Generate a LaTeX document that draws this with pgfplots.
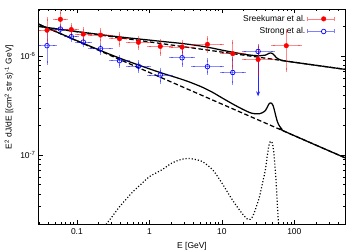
\documentclass[border=0pt]{standalone}
\usepackage{pgfplots}
\pgfplotsset{compat=1.18}
\usepackage{fontspec}
\setmainfont{Liberation Sans}
\usetikzlibrary{arrows.meta}
\newcommand{\fs}{\fontsize{8.5}{10}\selectfont}
\begin{document}
\begin{tikzpicture}
\begin{axis}[
  scale only axis, width=306bp, height=215bp,
  xmode=log, ymode=log,
  xmin=0.03, xmax=500, ymin=2e-8, ymax=3e-6,
  xtick={0.1,1,10,100}, xticklabels={0.1,1,10,100},
  ytick={1e-7,1e-6}, yticklabels={10\textsuperscript{-7},10\textsuperscript{-6}},
  minor xtick={0.03,0.04,0.05,0.06,0.07,0.08,0.09,0.2,0.3,0.4,0.5,0.6,0.7,0.8,0.9,2,3,4,5,6,7,8,9,20,30,40,50,60,70,80,90,200,300,400,500},
  minor ytick={2e-8,3e-8,4e-8,5e-8,6e-8,7e-8,8e-8,9e-8,2e-7,3e-7,4e-7,5e-7,6e-7,7e-7,8e-7,9e-7,2e-6,3e-6},
  major tick length=4bp, minor tick length=2bp,
  tick style={black, line width=0.5bp},
  axis line style={line width=1bp},
  tick label style={font=\fs},
  xticklabel style={yshift=-1.5bp},
  label style={font=\fs},
  xlabel={E [GeV]},
  ylabel={E\textsuperscript{2} dJ/dE [(cm\textsuperscript{2} str s)\textsuperscript{-1} GeV]},
  ylabel style={at={(axis description cs:-0.098,0.59)}, anchor=center},
  legend style={at={(rel axis cs:0.968,0.982)}, anchor=north east, draw=none, fill=none, inner sep=0pt, font=\fs, row sep=1bp},
  legend cell align=right, legend plot pos=right,
]
\coordinate (SW) at (rel axis cs:0,0);
\coordinate (NE) at (rel axis cs:1,1);
% dashed continua
\addplot[forget plot, black, line width=1.25bp, dash pattern=on 4.5bp off 2.5bp] coordinates {(0.03,2.0e-6) (500,0.735e-6)};
\addplot[forget plot, black, line width=1.25bp, dash pattern=on 4.5bp off 2.5bp] coordinates {(0.03,2.10e-6) (500,0.0936e-6)};
% dotted DM contribution
\addplot[forget plot, black, line width=1.2bp, dash pattern=on 1.1bp off 2bp, smooth] coordinates {
(0.2,1.57e-8) (0.258,2.02e-8) (0.3,2.33e-8) (0.386,2.98e-8) (0.5,3.7e-8) (0.589,4.23e-8) (0.75,4.97e-8)
(1.0,6.02e-8) (1.5,7.1e-8) (2.0,8.2e-8) (2.6,8.9e-8) (3.3,9.2e-8) (4.0,9.1e-8) (5.4,8.55e-8) (7.5,7.04e-8)
(10,5.2e-8) (14,3.5e-8) (19,2.56e-8) (23,2.22e-8) (26,2.32e-8) (29,2.8e-8) (33,3.77e-8) (36,5.0e-8)
(40,7.2e-8) (42.5,1.0e-7) (44.5,1.24e-7) (46.5,1.36e-7) (48.5,1.37e-7) (50.5,1.25e-7) (52.5,1.0e-7)
(54.5,7.2e-8) (56.5,4.8e-8) (58.5,3.0e-8) (60.5,2.0e-8) (63,1.2e-8) (67,5e-9)};
% solid totals
\addplot[forget plot, black, line width=1.25bp, smooth] coordinates {
(0.03,2.0e-6) (0.1,1.772e-6) (0.2,1.661e-6) (0.3,1.601e-6) (0.5,1.534e-6) (1,1.454e-6) (1.5,1.408e-6)
(2,1.379e-6) (2.6,1.352e-6) (3.3,1.324e-6) (4,1.299e-6) (5.4,1.257e-6) (7.5,1.203e-6) (10,1.151e-6)
(14,1.097e-6) (19,1.055e-6) (23,1.031e-6) (26,1.020e-6) (29,1.013e-6) (33,1.010e-6) (36,1.014e-6)
(40,1.025e-6) (42.5,1.047e-6) (44.5,1.067e-6) (46.5,1.075e-6) (48.5,1.072e-6) (50.5,1.056e-6)
(52.5,1.027e-6) (54.5,0.995e-6) (56.5,0.968e-6) (58.5,0.947e-6) (60.5,0.934e-6) (63,0.922e-6)
(67,0.909e-6) (75,0.893e-6) (500,0.735e-6)};
\addplot[forget plot, black, line width=1.25bp, smooth] coordinates {
(0.03,2.10e-6) (0.1,1.434e-6) (0.2,1.160e-6) (0.3,1.028e-6) (0.5,0.891e-6) (1,0.744e-6) (1.5,0.672e-6)
(2,0.630e-6) (2.6,0.593e-6) (3.3,0.559e-6) (4,0.530e-6) (5.4,0.484e-6) (7.5,0.429e-6) (10,0.379e-6)
(14,0.329e-6) (19,0.292e-6) (23,0.273e-6) (26,0.264e-6) (29,0.261e-6) (33,0.261e-6) (36,0.267e-6)
(40,0.282e-6) (42.5,0.306e-6) (44.5,0.327e-6) (46.5,0.336e-6) (48.5,0.334e-6) (50.5,0.320e-6)
(52.5,0.293e-6) (54.5,0.262e-6) (56.5,0.236e-6) (58.5,0.216e-6) (60.5,0.204e-6) (63,0.194e-6)
(67,0.183e-6) (75,0.172e-6) (500,0.0936e-6)};
% Strong et al. upper-limit arrow
\addplot[forget plot, blue!85, line width=0.8bp, -{Stealth[length=5bp,width=4bp]}] coordinates {(31.62,1.116e-6) (31.62,0.392e-6)};
% Strong et al.
\addplot[forget plot, only marks, mark=o, blue, mark size=2.3bp, mark options={line width=0.7bp},
  error bars/.cd, x dir=both, x explicit, y dir=both, y explicit,
  error bar style={blue, opacity=0.45, line width=0.7bp},
  error mark options={blue, opacity=0.45, mark size=2bp, line width=0.7bp}]
  table[x=x, y=y, x error plus=xp, x error minus=xm, y error plus=yp, y error minus=ym] {
x y xp xm yp ym
0.0387 1.276e-6 0.0113 0.0087 0.624e-6 0.419e-6
0.0592 1.88e-6 0.0108 0.0092 0.15e-6 0.15e-6
0.0837 1.575e-6 0.0163 0.0137 0.115e-6 0.105e-6
0.1225 1.388e-6 0.0275 0.0225 0.10e-6 0.10e-6
0.2121 1.189e-6 0.0879 0.0621 0.096e-6 0.124e-6
0.3873 0.898e-6 0.1127 0.0873 0.088e-6 0.094e-6
0.7071 0.791e-6 0.2929 0.2071 0.078e-6 0.087e-6
1.414 0.644e-6 0.586 0.414 0.088e-6 0.10e-6
2.828 0.963e-6 1.172 0.828 0.157e-6 0.14e-6
6.325 0.782e-6 3.675 2.325 0.128e-6 0.104e-6
14.14 0.683e-6 5.86 4.14 0.242e-6 0.143e-6
31.62 1.116e-6 18.38 11.62 0.148e-6 0
};
% Sreekumar et al.
\addplot[forget plot, only marks, mark=*, red, mark size=2.3bp,
  error bars/.cd, x dir=both, x explicit, y dir=both, y explicit,
  error bar style={red, opacity=0.45, line width=0.7bp},
  error mark options={red, opacity=0.45, mark size=2bp, line width=0.7bp}]
  table[x=x, y=y, x error plus=xp, x error minus=xm, y error plus=yp, y error minus=ym] {
x y xp xm yp ym
0.0387 1.83e-6 0.0113 0.0087 0.53e-6 0.41e-6
0.0592 2.36e-6 0.0108 0.0092 0.44e-6 0.37e-6
0.0837 1.86e-6 0.0163 0.0137 0.19e-6 0.17e-6
0.1225 1.67e-6 0.0275 0.0225 0.23e-6 0.215e-6
0.2121 1.635e-6 0.0879 0.0621 0.195e-6 0.215e-6
0.3873 1.50e-6 0.1127 0.0873 0.19e-6 0.215e-6
0.7071 1.38e-6 0.2929 0.2071 0.16e-6 0.18e-6
1.414 1.255e-6 0.586 0.414 0.165e-6 0.195e-6
2.828 1.235e-6 1.172 0.828 0.165e-6 0.155e-6
6.325 1.315e-6 3.675 2.325 0.195e-6 0.175e-6
14.14 1.06e-6 5.86 4.14 0.33e-6 0.29e-6
31.62 0.926e-6 18.38 11.62 0.32e-6 0.27e-6
77.46 1.276e-6 42.54 27.46 0.524e-6 0.556e-6
};
\addlegendimage{legend image code/.code={
  \draw[red!50, line width=0.7bp] (0bp,0bp)--(27bp,0bp) (0bp,-2bp)--(0bp,2bp) (27bp,-2bp)--(27bp,2bp);
  \fill[red] (16bp,0bp) circle (2.3bp);}}
\addlegendentry{Sreekumar et al.}
\addlegendimage{legend image code/.code={
  \draw[blue!50, line width=0.7bp] (0bp,0bp)--(27bp,0bp) (0bp,-2bp)--(0bp,2bp) (27bp,-2bp)--(27bp,2bp);
  \draw[blue, fill=white, line width=0.7bp] (16bp,0bp) circle (2.3bp);}}
\addlegendentry{Strong et al.}
\end{axis}
\pgfresetboundingbox
\path[use as bounding box] ([shift={(-39bp,-27bp)}]SW) rectangle ([shift={(15bp,9bp)}]NE);
\end{tikzpicture}
\end{document}
